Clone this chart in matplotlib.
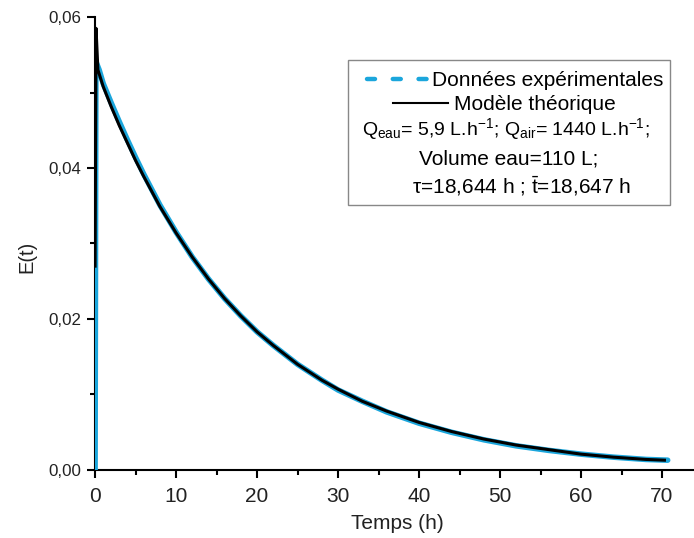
import matplotlib
matplotlib.use("Agg")
import matplotlib.pyplot as plt
from matplotlib.patches import Rectangle
from matplotlib.lines import Line2D
from matplotlib.ticker import MultipleLocator, FuncFormatter

plt.rcParams['font.family'] = ['Liberation Sans', 'DejaVu Sans']
plt.rcParams['mathtext.fontset'] = 'custom'
plt.rcParams['mathtext.rm'] = 'Liberation Sans'
plt.rcParams['mathtext.it'] = 'Liberation Sans:italic'

t_exp = [0.0, 0.1, 0.5, 1, 2, 3, 4, 5, 6, 8, 10, 12, 14, 16, 18, 20, 22, 25, 28,
         30, 33, 36, 40, 44, 48, 52, 56, 60, 64, 68, 70.7]
e_exp = [0.0, 0.0541, 0.0530, 0.0512, 0.0486, 0.0461, 0.0437, 0.0414, 0.0392,
         0.0351, 0.0315, 0.0282, 0.0253, 0.0227, 0.0204, 0.0183, 0.0165, 0.0140,
         0.0119, 0.0106, 0.0091, 0.0077, 0.0062, 0.0050, 0.0040, 0.0032, 0.0026,
         0.0021, 0.0017, 0.0014, 0.0013]

# Theoretical model
t_mod = [0.0, 0.12, 0.35, 1, 2, 3, 4, 5, 6, 8, 10, 12, 14, 16, 18, 20, 22, 25, 28,
         30, 33, 36, 40, 44, 48, 52, 56, 60, 64, 68, 70.3]
e_mod = [0.0270, 0.0585, 0.0530, 0.0508, 0.0481, 0.0456, 0.0433, 0.0410, 0.0389,
         0.0349, 0.0314, 0.0282, 0.0253, 0.0227, 0.0204, 0.0183, 0.0165, 0.0140,
         0.0119, 0.0107, 0.0091, 0.0078, 0.0063, 0.0051, 0.0041, 0.0033, 0.0027,
         0.0021, 0.0017, 0.0014, 0.0013]

BLUE = '#1ba6dc'
TXT = '#222222'

fig = plt.figure(figsize=(6.94, 5.38), dpi=100)
ax = fig.add_axes([0.137, 0.1264, 0.863, 0.842])

ax.plot(t_exp, e_exp, color=BLUE, lw=4.0, solid_capstyle='round', zorder=3)
ax.plot(t_mod, e_mod, color='black', lw=2.2, zorder=4)

ax.set_xlim(0, 73.95)
ax.set_ylim(0, 0.06)
for s in ['top', 'right']:
    ax.spines[s].set_visible(False)
for s in ['left', 'bottom']:
    ax.spines[s].set_linewidth(1.5)

ax.xaxis.set_major_locator(MultipleLocator(10))
ax.xaxis.set_minor_locator(MultipleLocator(5))
ax.yaxis.set_major_locator(MultipleLocator(0.02))
ax.yaxis.set_minor_locator(MultipleLocator(0.01))
ax.yaxis.set_major_formatter(FuncFormatter(lambda v, p: f"{v:.2f}".replace('.', ',')))
ax.tick_params(which='major', direction='out', length=5.8, width=1.5)
ax.tick_params(which='minor', direction='out', length=3.6, width=1.5)
ax.tick_params(axis='y', labelcolor=TXT, labelsize=12.2, pad=4)
ax.tick_params(axis='x', labelcolor=TXT, labelsize=15, pad=6.5)

ax.set_xlabel('Temps (h)', fontsize=15, color=TXT)
ax.set_ylabel('E(t)', fontsize=14.5, color=TXT)
ax.xaxis.set_label_coords(0.504, -0.097)
ax.yaxis.set_label_coords(-0.0985, 0.47)

# Legend box drawn manually in data coordinates
x0, x1 = 31.2, 71.0
y0, y1 = 0.0351, 0.0543
ax.add_patch(Rectangle((x0, y0), x1 - x0, y1 - y0,
                       facecolor='white', edgecolor='#888888', lw=1.0, zorder=5))
fs = 15
ax.add_line(Line2D([33.6, 40.96], [0.0518, 0.0518], color=BLUE, lw=3.2,
                   ls=(0, (1.8, 4.0)), dash_capstyle='round', zorder=6))
ax.text(41.6, 0.0508, 'Données expérimentales', fontsize=fs, va='baseline', ha='left', zorder=6)
ax.add_line(Line2D([36.8, 43.6], [0.0486, 0.0486], color='black', lw=1.5, zorder=6))
ax.text(44.3, 0.04763, 'Modèle théorique', fontsize=fs, va='baseline', ha='left', zorder=6)
ax.text(50.7, 0.04430,
        r'Q$_{\mathregular{eau}}$= 5,9 L.h$^{\mathregular{-1}}$; Q$_{\mathregular{air}}$= 1440 L.h$^{\mathregular{-1}}$;',
        fontsize=14, va='baseline', ha='center', zorder=6)
ax.text(51.0, 0.04048, 'Volume eau=110 L;', fontsize=fs, va='baseline', ha='center', zorder=6)
ax.text(52.6, 0.03660, r'τ=18,644 h ; $\mathregular{\bar{t}}$=18,647 h', fontsize=fs,
        va='baseline', ha='center', zorder=6)

fig.savefig('out.png', dpi=100)
